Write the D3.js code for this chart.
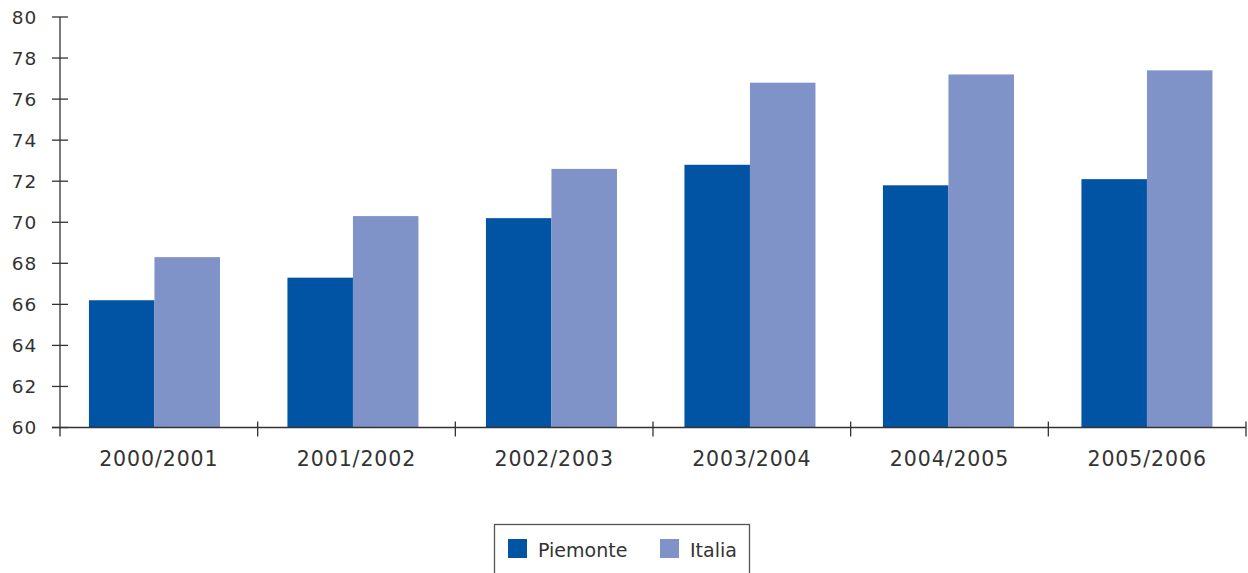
<!DOCTYPE html>
<html>
<head>
<meta charset="utf-8">
<script src="https://cdn.jsdelivr.net/npm/d3@7"></script>
<style>
  html, body { margin: 0; padding: 0; background: #fff; }
  svg { display: block; }
  text { font-family: "DejaVu Sans", sans-serif; fill: #333; }
</style>
</head>
<body>
<svg id="chart" width="1248" height="573"></svg>
<script>
// School years on the x axis
const categories = ["2000/2001", "2001/2002", "2002/2003", "2003/2004", "2004/2005", "2005/2006"];
// Values for the two series
const piemonte = [66.2, 67.3, 70.2, 72.8, 71.8, 72.1];
const italia = [68.3, 70.3, 72.6, 76.8, 77.2, 77.4];
const seriesNames = ["Piemonte", "Italia"];
const seriesColors = ["#0154a4", "#8093c8"];
const yTicks = [60, 62, 64, 66, 68, 70, 72, 74, 76, 78, 80];

const svg = d3.select("#chart");
const plotLeft = 60, plotRight = 1246, plotTop = 17, plotBottom = 427.5;

// Category bands for the axis separators and labels
const x = d3.scaleBand().domain(categories).range([plotLeft, plotRight]).paddingInner(0).paddingOuter(0);
// Bar groups sit slightly left of the band centres
const xBars = d3.scaleBand().domain(categories).range([plotLeft - 4.8, plotRight + 0.2]);
const xInner = d3.scaleBand().domain(seriesNames).range([0, xBars.bandwidth()]).paddingInner(0).paddingOuter(0.515);
const y = d3.scaleLinear().domain([60, 80]).range([plotBottom, plotTop]);

const data = categories.map((c, i) => ({ cat: c, vals: [piemonte[i], italia[i]] }));

// Bars
const groups = svg.append("g").selectAll("g").data(data).join("g")
  .attr("transform", d => `translate(${xBars(d.cat)},0)`);
groups.selectAll("rect").data(d => d.vals.map((v, j) => ({ v, j })))
  .join("rect")
  .attr("x", d => xInner(seriesNames[d.j]))
  .attr("width", xInner.bandwidth())
  .attr("y", d => y(d.v))
  .attr("height", d => y(60) - y(d.v))
  .attr("fill", d => seriesColors[d.j]);

// Y axis: ticks cross the axis line
const yAxis = svg.append("g");
yAxis.append("line").attr("x1", plotLeft).attr("x2", plotLeft).attr("y1", y(80)).attr("y2", plotBottom + 9)
  .attr("stroke", "#333").attr("stroke-width", 1.3);
yAxis.selectAll("line.tick").data(yTicks).join("line").attr("class", "tick")
  .attr("x1", plotLeft - 8).attr("x2", plotLeft + 8)
  .attr("y1", d => y(d)).attr("y2", d => y(d))
  .attr("stroke", "#333").attr("stroke-width", 1.3);
yAxis.selectAll("text").data(yTicks).join("text")
  .attr("x", 37).attr("y", d => y(d)).attr("dy", "0.36em")
  .attr("text-anchor", "end").attr("font-size", 18.5).attr("letter-spacing", 0.8).text(d => d);

// X axis: baseline and category separators
const xAxis = svg.append("g");
xAxis.append("line").attr("x1", plotLeft - 8).attr("x2", plotRight).attr("y1", plotBottom).attr("y2", plotBottom)
  .attr("stroke", "#333").attr("stroke-width", 1.3);
const bounds = categories.map(c => x(c)).concat([plotRight]);
xAxis.selectAll("line.tick").data(bounds.slice(1)).join("line").attr("class", "tick")
  .attr("x1", d => d).attr("x2", d => d).attr("y1", plotBottom - 6).attr("y2", plotBottom + 9)
  .attr("stroke", "#333").attr("stroke-width", 1.3);
xAxis.selectAll("text").data(categories).join("text")
  .attr("x", d => x(d) + x.bandwidth() / 2).attr("y", 466)
  .attr("text-anchor", "middle").attr("font-size", 20.5).attr("letter-spacing", 0.9).text(d => d);

// Legend
const legend = svg.append("g");
legend.append("rect").attr("x", 494.5).attr("y", 524.5).attr("width", 255).attr("height", 60)
  .attr("fill", "none").attr("stroke", "#555").attr("stroke-width", 1.3);
const legendPos = [508, 660];
seriesNames.forEach((n, i) => {
  legend.append("rect").attr("x", legendPos[i]).attr("y", 539).attr("width", 19).attr("height", 19)
    .attr("fill", seriesColors[i]);
  legend.append("text").attr("x", legendPos[i] + 30).attr("y", 557)
    .attr("font-size", 19).text(n);
});
</script>
</body>
</html>
